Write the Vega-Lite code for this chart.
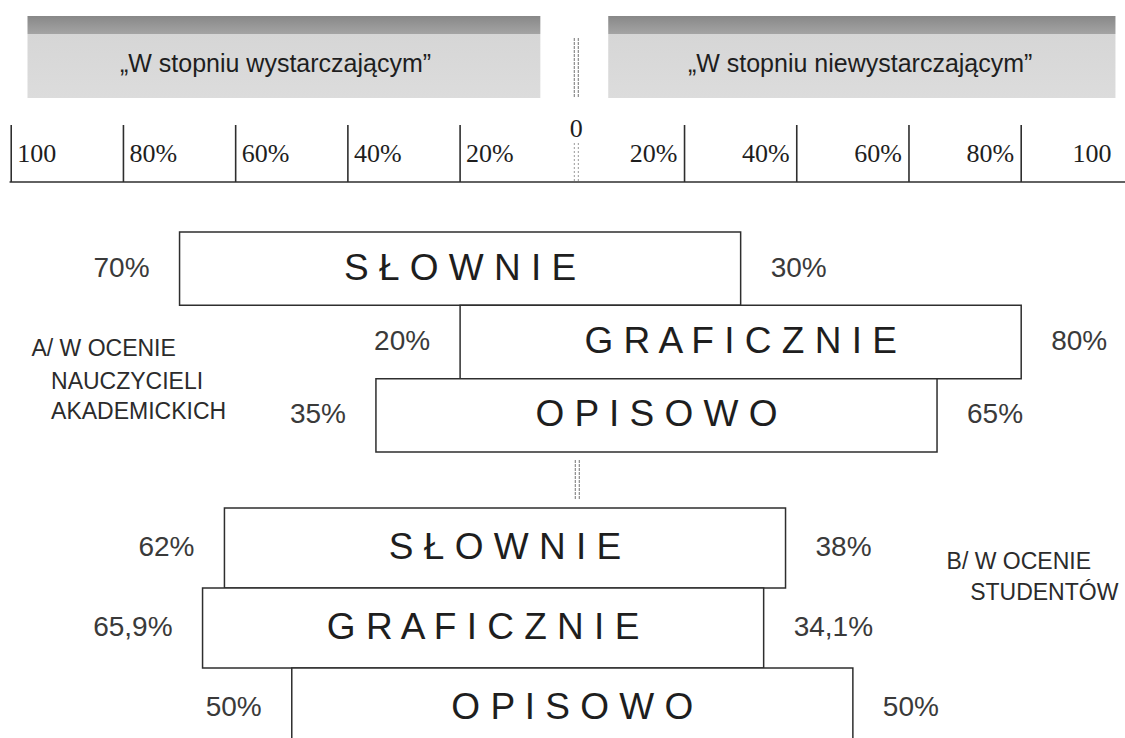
{
  "$schema": "https://vega.github.io/schema/vega-lite/v6.json",
  "padding": {"left": 0, "right": 0, "top": 16, "bottom": 0},
  "background": "white",
  "config": {
    "view": {"stroke": null},
    "font": "Liberation Sans",
    "text": {"font": "Liberation Sans", "color": "#2b2b2b"}
  },
  "datasets": {
    "oceny": [
      {"grupa": "A", "sposob": "S Ł O W N I E", "ocena": "w stopniu wystarczającym", "pct": -70, "etykieta": "70%"},
      {"grupa": "A", "sposob": "S Ł O W N I E", "ocena": "w stopniu niewystarczającym", "pct": 30, "etykieta": "30%"},
      {"grupa": "A", "sposob": "G R A F I C Z N I E", "ocena": "w stopniu wystarczającym", "pct": -20, "etykieta": "20%"},
      {"grupa": "A", "sposob": "G R A F I C Z N I E", "ocena": "w stopniu niewystarczającym", "pct": 80, "etykieta": "80%"},
      {"grupa": "A", "sposob": "O P I S O W O", "ocena": "w stopniu wystarczającym", "pct": -35, "etykieta": "35%"},
      {"grupa": "A", "sposob": "O P I S O W O", "ocena": "w stopniu niewystarczającym", "pct": 65, "etykieta": "65%"},
      {"grupa": "B", "sposob": "S Ł O W N I E", "ocena": "w stopniu wystarczającym", "pct": -62, "etykieta": "62%"},
      {"grupa": "B", "sposob": "S Ł O W N I E", "ocena": "w stopniu niewystarczającym", "pct": 38, "etykieta": "38%"},
      {"grupa": "B", "sposob": "G R A F I C Z N I E", "ocena": "w stopniu wystarczającym", "pct": -65.9, "etykieta": "65,9%"},
      {"grupa": "B", "sposob": "G R A F I C Z N I E", "ocena": "w stopniu niewystarczającym", "pct": 34.1, "etykieta": "34,1%"},
      {"grupa": "B", "sposob": "O P I S O W O", "ocena": "w stopniu wystarczającym", "pct": -50, "etykieta": "50%"},
      {"grupa": "B", "sposob": "O P I S O W O", "ocena": "w stopniu niewystarczającym", "pct": 50, "etykieta": "50%"}
    ],
    "skala": [
      {"wartosc": -100, "napis": "100", "strona": "lewa"},
      {"wartosc": -80, "napis": "80%", "strona": "lewa"},
      {"wartosc": -60, "napis": "60%", "strona": "lewa"},
      {"wartosc": -40, "napis": "40%", "strona": "lewa"},
      {"wartosc": -20, "napis": "20%", "strona": "lewa"},
      {"wartosc": 20, "napis": "20%", "strona": "prawa"},
      {"wartosc": 40, "napis": "40%", "strona": "prawa"},
      {"wartosc": 60, "napis": "60%", "strona": "prawa"},
      {"wartosc": 80, "napis": "80%", "strona": "prawa"},
      {"wartosc": 100, "napis": "100", "strona": "koniec"}
    ]
  },
  "spacing": 27,
  "bounds": "flush",
  "vconcat": [
    {
      "width": 1125,
      "height": 82,
      "data": {"values": [{}]},
      "layer": [
        {
          "mark": {"type": "rect", "fill": {"gradient": "linear", "x1": 0, "y1": 0, "x2": 0, "y2": 1, "stops": [{"offset": 0, "color": "#888888"}, {"offset": 0.22, "color": "#a4a4a4"}, {"offset": 0.22, "color": "#d6d6d6"}, {"offset": 1, "color": "#dcdcdc"}]}},
          "encoding": {
            "x": {"datum": -97.1, "type": "quantitative", "scale": {"domain": [-102, 98.5], "nice": false, "zero": false}, "axis": null},
            "x2": {"datum": -5.7}
          }
        },
        {
          "mark": {"type": "rect", "fill": {"gradient": "linear", "x1": 0, "y1": 0, "x2": 0, "y2": 1, "stops": [{"offset": 0, "color": "#888888"}, {"offset": 0.22, "color": "#a4a4a4"}, {"offset": 0.22, "color": "#d6d6d6"}, {"offset": 1, "color": "#dcdcdc"}]}},
          "encoding": {
            "x": {"datum": 6.4, "type": "quantitative", "axis": null},
            "x2": {"datum": 96.8}
          }
        },
        {
          "mark": {"type": "text", "text": "„W stopniu wystarczającym”", "fontSize": 25, "dy": 7, "color": "#1e1e1e"},
          "encoding": {"x": {"datum": -52.9, "type": "quantitative", "axis": null}}
        },
        {
          "mark": {"type": "text", "text": "„W stopniu niewystarczającym”", "fontSize": 25, "dy": 7, "color": "#1e1e1e"},
          "encoding": {"x": {"datum": 51.3, "type": "quantitative", "axis": null}}
        },
        {
          "mark": {"type": "rule", "stroke": "#8a8a8a", "strokeWidth": 1.2, "strokeDash": [3, 1], "xOffset": 2, "yOffset": 22, "y2Offset": -1},
          "encoding": {"x": {"datum": 0, "type": "quantitative", "axis": null}}
        },
        {
          "mark": {"type": "rule", "stroke": "#8a8a8a", "strokeWidth": 1.2, "strokeDash": [3, 1], "xOffset": 6, "yOffset": 22, "y2Offset": -1},
          "encoding": {"x": {"datum": 0, "type": "quantitative", "axis": null}}
        }
      ]
    },
    {
      "spacing": 50,
      "bounds": "flush",
      "vconcat": [
        {
          "width": 1125,
          "height": 57,
          "layer": [
            {
              "data": {"name": "skala"},
              "transform": [{"filter": "datum.strona != 'koniec'"}],
              "mark": {"type": "rule", "stroke": "#2e2e2e", "strokeWidth": 1.6},
              "encoding": {
                "x": {"field": "wartosc", "type": "quantitative", "scale": {"domain": [-102, 98.5], "nice": false, "zero": false}, "axis": null}
              }
            },
            {
              "data": {"values": [{}]},
              "mark": {"type": "rule", "stroke": "#2e2e2e", "strokeWidth": 1.6, "y": "height"},
              "encoding": {
                "x": {"datum": -100.3, "type": "quantitative", "axis": null},
                "x2": {"datum": 98.5}
              }
            },
            {
              "data": {"name": "skala"},
              "transform": [{"filter": "datum.strona == 'lewa'"}],
              "mark": {"type": "text", "align": "left", "dx": 6, "font": "Liberation Serif", "fontSize": 26, "color": "#1e1e1e"},
              "encoding": {
                "x": {"field": "wartosc", "type": "quantitative", "axis": null},
                "text": {"field": "napis"}
              }
            },
            {
              "data": {"name": "skala"},
              "transform": [{"filter": "datum.strona == 'prawa'"}],
              "mark": {"type": "text", "align": "right", "dx": -7, "font": "Liberation Serif", "fontSize": 26, "color": "#1e1e1e"},
              "encoding": {
                "x": {"field": "wartosc", "type": "quantitative", "axis": null},
                "text": {"field": "napis"}
              }
            },
            {
              "data": {"name": "skala"},
              "transform": [{"filter": "datum.strona == 'koniec'"}],
              "mark": {"type": "text", "align": "right", "dx": -22, "font": "Liberation Serif", "fontSize": 26, "color": "#1e1e1e"},
              "encoding": {
                "x": {"field": "wartosc", "type": "quantitative", "axis": null},
                "text": {"field": "napis"}
              }
            },
            {
              "data": {"values": [{}]},
              "mark": {"type": "text", "text": "0", "dx": 4, "dy": -25, "font": "Liberation Serif", "fontSize": 26, "color": "#1e1e1e"},
              "encoding": {"x": {"datum": 0, "type": "quantitative", "axis": null}}
            },
            {
              "data": {"values": [{}]},
              "mark": {"type": "rule", "stroke": "#9a9a9a", "strokeWidth": 1, "strokeDash": [2, 2], "xOffset": 2, "yOffset": 18, "y2Offset": -5},
              "encoding": {"x": {"datum": 0, "type": "quantitative", "axis": null}}
            },
            {
              "data": {"values": [{}]},
              "mark": {"type": "rule", "stroke": "#9a9a9a", "strokeWidth": 1, "strokeDash": [2, 2], "xOffset": 6, "yOffset": 18, "y2Offset": -5},
              "encoding": {"x": {"datum": 0, "type": "quantitative", "axis": null}}
            }
          ]
        },
        {
          "spacing": 8,
          "bounds": "flush",
          "vconcat": [
            {
              "width": 1125,
              "height": 220,
              "layer": [
                {
                  "data": {"name": "oceny"},
                  "transform": [{"filter": {"field": "grupa", "equal": "A"}}],
                  "mark": {"type": "rect", "fill": "white", "stroke": "#2e2e2e", "strokeWidth": 1.5},
                  "encoding": {
                    "x": {"aggregate": "min", "field": "pct", "type": "quantitative", "scale": {"domain": [-102, 98.5], "nice": false, "zero": false}, "axis": null},
                    "x2": {"aggregate": "max", "field": "pct"},
                    "y": {"field": "sposob", "type": "nominal", "scale": {"domain": ["S Ł O W N I E", "G R A F I C Z N I E", "O P I S O W O"], "paddingInner": 0, "paddingOuter": 0}, "axis": null}
                  }
                },
                {
                  "data": {"name": "oceny"},
                  "transform": [{"filter": {"field": "grupa", "equal": "A"}}],
                  "mark": {"type": "text", "fontSize": 37, "baseline": "middle", "color": "#1e1e1e"},
                  "encoding": {
                    "x": {"aggregate": "mean", "field": "pct", "type": "quantitative", "axis": null},
                    "y": {"field": "sposob", "type": "nominal", "axis": null},
                    "text": {"field": "sposob"}
                  }
                },
                {
                  "data": {"name": "oceny"},
                  "transform": [{"filter": {"field": "grupa", "equal": "A"}}, {"filter": "datum.pct < 0"}],
                  "mark": {"type": "text", "fontSize": 28, "align": "right", "baseline": "middle", "dx": -30, "color": "#3a3a3a"},
                  "encoding": {
                    "x": {"field": "pct", "type": "quantitative", "axis": null},
                    "y": {"field": "sposob", "type": "nominal", "axis": null},
                    "text": {"field": "etykieta"}
                  }
                },
                {
                  "data": {"name": "oceny"},
                  "transform": [{"filter": {"field": "grupa", "equal": "A"}}, {"filter": "datum.pct > 0"}],
                  "mark": {"type": "text", "fontSize": 28, "align": "left", "baseline": "middle", "dx": 30, "color": "#3a3a3a"},
                  "encoding": {
                    "x": {"field": "pct", "type": "quantitative", "axis": null},
                    "y": {"field": "sposob", "type": "nominal", "axis": null},
                    "text": {"field": "etykieta"}
                  }
                },
                {
                  "data": {"values": [{}]},
                  "mark": {"type": "text", "text": "A/ W OCENIE", "fontSize": 23, "align": "left", "baseline": "middle", "dy": 7, "color": "#2b2b2b"},
                  "encoding": {
                    "x": {"datum": -96.4, "type": "quantitative", "axis": null},
                    "y": {"datum": "G R A F I C Z N I E", "type": "nominal", "axis": null}
                  }
                },
                {
                  "data": {"values": [{}]},
                  "mark": {"type": "text", "text": ["NAUCZYCIELI", "AKADEMICKICH"], "lineHeight": 30, "fontSize": 23, "align": "left", "baseline": "middle", "dy": -33, "color": "#2b2b2b"},
                  "encoding": {
                    "x": {"datum": -92.9, "type": "quantitative", "axis": null},
                    "y": {"datum": "O P I S O W O", "type": "nominal", "axis": null}
                  }
                }
              ]
            },
            {
              "width": 1125,
              "height": 40,
              "data": {"values": [{}]},
              "layer": [
                {
                  "mark": {"type": "rule", "stroke": "#8a8a8a", "strokeWidth": 1.2, "strokeDash": [3, 1], "xOffset": 3},
                  "encoding": {"x": {"datum": 0, "type": "quantitative", "scale": {"domain": [-102, 98.5], "nice": false, "zero": false}, "axis": null}}
                },
                {
                  "mark": {"type": "rule", "stroke": "#8a8a8a", "strokeWidth": 1.2, "strokeDash": [3, 1], "xOffset": 7},
                  "encoding": {"x": {"datum": 0, "type": "quantitative", "axis": null}}
                }
              ]
            },
            {
              "width": 1125,
              "height": 240,
              "layer": [
                {
                  "data": {"name": "oceny"},
                  "transform": [{"filter": {"field": "grupa", "equal": "B"}}],
                  "mark": {"type": "rect", "fill": "white", "stroke": "#2e2e2e", "strokeWidth": 1.5},
                  "encoding": {
                    "x": {"aggregate": "min", "field": "pct", "type": "quantitative", "scale": {"domain": [-102, 98.5], "nice": false, "zero": false}, "axis": null},
                    "x2": {"aggregate": "max", "field": "pct"},
                    "y": {"field": "sposob", "type": "nominal", "scale": {"domain": ["S Ł O W N I E", "G R A F I C Z N I E", "O P I S O W O"], "paddingInner": 0, "paddingOuter": 0}, "axis": null}
                  }
                },
                {
                  "data": {"name": "oceny"},
                  "transform": [{"filter": {"field": "grupa", "equal": "B"}}],
                  "mark": {"type": "text", "fontSize": 37, "baseline": "middle", "color": "#1e1e1e"},
                  "encoding": {
                    "x": {"aggregate": "mean", "field": "pct", "type": "quantitative", "axis": null},
                    "y": {"field": "sposob", "type": "nominal", "axis": null},
                    "text": {"field": "sposob"}
                  }
                },
                {
                  "data": {"name": "oceny"},
                  "transform": [{"filter": {"field": "grupa", "equal": "B"}}, {"filter": "datum.pct < 0"}],
                  "mark": {"type": "text", "fontSize": 28, "align": "right", "baseline": "middle", "dx": -30, "color": "#3a3a3a"},
                  "encoding": {
                    "x": {"field": "pct", "type": "quantitative", "axis": null},
                    "y": {"field": "sposob", "type": "nominal", "axis": null},
                    "text": {"field": "etykieta"}
                  }
                },
                {
                  "data": {"name": "oceny"},
                  "transform": [{"filter": {"field": "grupa", "equal": "B"}}, {"filter": "datum.pct > 0"}],
                  "mark": {"type": "text", "fontSize": 28, "align": "left", "baseline": "middle", "dx": 30, "color": "#3a3a3a"},
                  "encoding": {
                    "x": {"field": "pct", "type": "quantitative", "axis": null},
                    "y": {"field": "sposob", "type": "nominal", "axis": null},
                    "text": {"field": "etykieta"}
                  }
                },
                {
                  "data": {"values": [{}]},
                  "mark": {"type": "text", "text": "B/ W OCENIE", "fontSize": 23, "align": "left", "baseline": "middle", "dy": 14, "color": "#2b2b2b"},
                  "encoding": {
                    "x": {"datum": 66.7, "type": "quantitative", "axis": null},
                    "y": {"datum": "S Ł O W N I E", "type": "nominal", "axis": null}
                  }
                },
                {
                  "data": {"values": [{}]},
                  "mark": {"type": "text", "text": "STUDENTÓW", "fontSize": 23, "align": "left", "baseline": "middle", "dy": -35, "color": "#2b2b2b"},
                  "encoding": {
                    "x": {"datum": 70.9, "type": "quantitative", "axis": null},
                    "y": {"datum": "G R A F I C Z N I E", "type": "nominal", "axis": null}
                  }
                }
              ]
            }
          ]
        }
      ]
    }
  ]
}
